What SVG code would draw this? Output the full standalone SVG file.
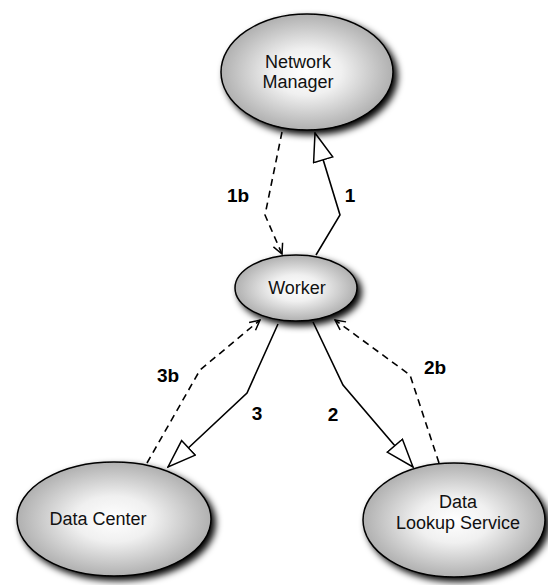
<svg xmlns="http://www.w3.org/2000/svg" width="548" height="585" viewBox="0 0 548 585">
<defs>
<radialGradient id="g" cx="0.5" cy="0.5" r="0.5">
<stop offset="0" stop-color="#ffffff"/>
<stop offset="0.4" stop-color="#f0f0f0"/>
<stop offset="1" stop-color="#b0b0b0"/>
</radialGradient>
<filter id="sh" x="-20%" y="-20%" width="150%" height="150%">
<feGaussianBlur in="SourceAlpha" stdDeviation="3.5"/>
<feOffset dx="4" dy="4" result="b"/>
<feComponentTransfer><feFuncA type="linear" slope="1"/></feComponentTransfer>
<feMerge><feMergeNode/><feMergeNode in="SourceGraphic"/></feMerge>
</filter>
<marker id="tri" viewBox="0 0 30 22" refX="29" refY="11" markerWidth="30" markerHeight="22" markerUnits="userSpaceOnUse" orient="auto">
<path d="M1,1 L29,11 L1,21 Z" fill="#fff" stroke="#000" stroke-width="1.5"/>
</marker>
<marker id="open" viewBox="0 0 12 12" refX="11" refY="6" markerWidth="12" markerHeight="12" markerUnits="userSpaceOnUse" orient="auto">
<path d="M1,1 L11,6 L1,11" fill="none" stroke="#000" stroke-width="1.5"/>
</marker>
</defs>
<style>
.node ellipse{fill:url(#g);stroke:#000;stroke-width:1.5;filter:url(#sh)}
.node text{font-family:"Liberation Sans",Arial,sans-serif;font-size:18px;fill:#111;text-anchor:middle}
.c{fill:none;stroke:#000;stroke-width:1.6}
.s{marker-end:url(#tri)}
.d{stroke-dasharray:7,5;marker-end:url(#open)}
.lbl{font-family:"Liberation Sans",Arial,sans-serif;font-size:19px;font-weight:bold;fill:#000;text-anchor:middle}
</style>
<g id="connectors">
<polyline class="c s" points="316,255 340,215 315,133"/>
<polyline class="c d" points="282,132 265,215 282,254"/>
<polyline class="c s" points="278,324 247,393 168,467"/>
<polyline class="c d" points="147,463 200,370 260,320"/>
<polyline class="c s" points="313,322 343,385 413,467"/>
<polyline class="c d" points="439,463 410,375 335,320"/>
<text class="lbl" x="238" y="202">1b</text>
<text class="lbl" x="350" y="202">1</text>
<text class="lbl" x="168" y="382">3b</text>
<text class="lbl" x="257" y="420">3</text>
<text class="lbl" x="435" y="374">2b</text>
<text class="lbl" x="333" y="421">2</text>
</g>
<g id="network-manager" class="node">
<ellipse cx="307" cy="72" rx="86" ry="58"/>
<text x="298" y="68">Network</text>
<text x="298" y="88">Manager</text>
</g>
<g id="worker" class="node">
<ellipse cx="296" cy="288" rx="61" ry="33"/>
<text x="297" y="294">Worker</text>
</g>
<g id="data-center" class="node">
<ellipse cx="114" cy="519" rx="97" ry="57"/>
<text x="98" y="525">Data Center</text>
</g>
<g id="data-lookup-service" class="node">
<ellipse cx="454" cy="520" rx="91" ry="57"/>
<text x="458" y="508">Data</text>
<text x="458" y="529">Lookup Service</text>
</g>
</svg>
